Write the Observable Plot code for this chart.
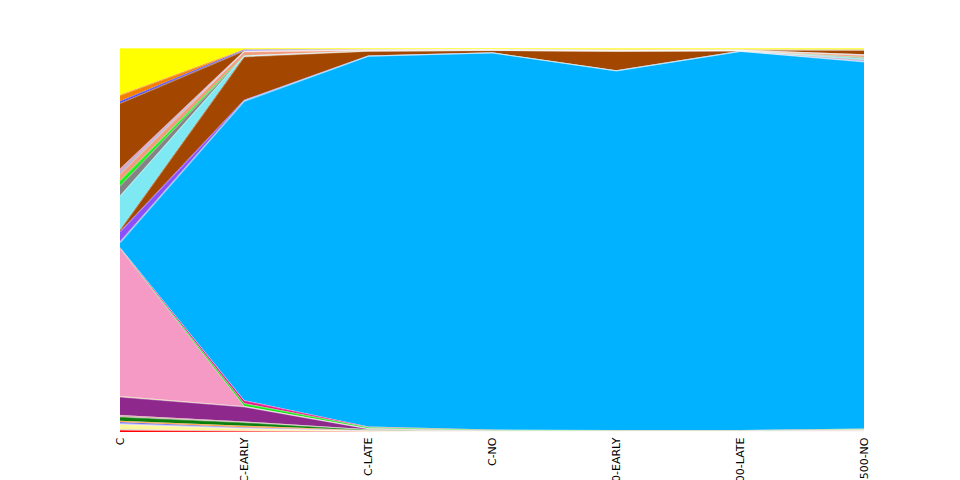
<!DOCTYPE html>
<html>
<head>
<meta charset="utf-8">
<script src="https://cdn.jsdelivr.net/npm/d3@7"></script>
<script src="https://cdn.jsdelivr.net/npm/@observablehq/plot@0.6"></script>
<style>
  html, body { margin: 0; padding: 0; background: #ffffff; }
  svg text { font-family: "DejaVu Sans", sans-serif; }
</style>
</head>
<body>
<div id="chart"></div>
<script>
// Samples (x categories)
const samples = ["C", "C-EARLY", "C-LATE", "C-NO", "C500-EARLY", "C500-LATE", "C500-NO"];

// Taxa, bottom of the stack to top
const taxa = [
  "Taxon 01", "Taxon 02", "Taxon 03", "Taxon 04", "Taxon 05", "Taxon 06", "Taxon 07",
  "Taxon 08", "Taxon 09", "Taxon 10", "Taxon 11", "Taxon 12", "Taxon 13", "Taxon 14",
  "Taxon 15", "Taxon 16", "Taxon 17", "Taxon 18", "Taxon 19", "Taxon 20", "Taxon 21",
  "Taxon 22", "Taxon 23", "Taxon 24", "Taxon 25", "Taxon 26", "Taxon 27"
];

// Relative abundance (%) per sample, one array per taxon
const taxon01 = [0.55, 0.30, 0.10, 0.05, 0.05, 0.05, 0.08];
const taxon02 = [0.20, 0.10, 0.05, 0.02, 0.02, 0.02, 0.03];
const taxon03 = [1.30, 0.50, 0.15, 0.05, 0.05, 0.05, 0.08];
const taxon04 = [0.25, 0.20, 0.05, 0.02, 0.02, 0.02, 0.03];
const taxon05 = [0.30, 0.15, 0.03, 0.02, 0.02, 0.02, 0.02];
const taxon06 = [0.30, 0.40, 0.10, 0.03, 0.03, 0.03, 0.06];
const taxon07 = [1.10, 0.90, 0.20, 0.05, 0.03, 0.03, 0.04];
const taxon08 = [0.40, 0.20, 0.05, 0.02, 0.02, 0.02, 0.04];
const taxon09 = [4.80, 3.90, 0.20, 0.05, 0.03, 0.03, 0.04];
const taxon10 = [0.15, 0.05, 0.02, 0.01, 0.01, 0.01, 0.05];
const taxon11 = [38.40, 0.10, 0.05, 0.05, 0.05, 0.05, 0.20];
const taxon12 = [0.10, 0.70, 0.30, 0.20, 0.15, 0.15, 0.15];
const taxon13 = [0.20, 0.80, 0.15, 0.05, 0.05, 0.05, 0.06];
const taxon14 = [1.30, 77.90, 96.60, 98.20, 93.60, 98.80, 95.50];
const taxon15 = [0.30, 0.10, 0.05, 0.03, 0.05, 0.03, 0.10];
const taxon16 = [2.60, 0.20, 0.05, 0.02, 0.02, 0.02, 0.20];
const taxon17 = [0.50, 11.30, 1.20, 0.60, 5.00, 0.10, 0.10];
const taxon18 = [8.85, 0.20, 0.05, 0.02, 0.05, 0.02, 0.40];
const taxon19 = [2.60, 0.05, 0.03, 0.02, 0.03, 0.02, 0.30];
const taxon20 = [1.30, 0.05, 0.02, 0.01, 0.02, 0.01, 0.10];
const taxon21 = [1.80, 1.00, 0.15, 0.10, 0.15, 0.10, 0.50];
const taxon22 = [0.60, 0.10, 0.03, 0.02, 0.02, 0.02, 0.15];
const taxon23 = [0.70, 0.10, 0.03, 0.02, 0.02, 0.02, 0.10];
const taxon24 = [17.10, 0.05, 0.10, 0.05, 0.05, 0.05, 1.10];
const taxon25 = [0.50, 0.25, 0.03, 0.02, 0.02, 0.02, 0.05];
const taxon26 = [1.60, 0.05, 0.05, 0.02, 0.03, 0.02, 0.05];
const taxon27 = [12.20, 0.35, 0.25, 0.25, 0.40, 0.35, 0.40];

const abundances = [
  taxon01, taxon02, taxon03, taxon04, taxon05, taxon06, taxon07, taxon08, taxon09,
  taxon10, taxon11, taxon12, taxon13, taxon14, taxon15, taxon16, taxon17, taxon18,
  taxon19, taxon20, taxon21, taxon22, taxon23, taxon24, taxon25, taxon26, taxon27
];

// Fill colours, same order as taxa
const palette = [
  "#ff0000", "#cfc8c0", "#fff59a", "#b0a8f0", "#3c3cf0", "#ff8c1a", "#0b7d0b",
  "#d4a0a0", "#8e288c", "#e8c070", "#f49ac4", "#19e619", "#ea1a8e", "#00b2ff",
  "#a0a0c8", "#8c50fa", "#a34700", "#7ee9f3", "#838383", "#13f013", "#f29c7e",
  "#90a8e0", "#e090b0", "#a34700", "#2828ff", "#f58000", "#ffff00"
];

const table = [];
taxa.forEach((taxon, i) => {
  samples.forEach((sample, j) => {
    table.push({sample, taxon, share: abundances[i][j]});
  });
});

const chart = Plot.plot({
  width: 960,
  height: 480,
  marginLeft: 120,
  marginRight: 96,
  marginTop: 48,
  marginBottom: 48,
  style: {fontFamily: "'DejaVu Sans', sans-serif", fontSize: "11px", background: "#ffffff", color: "#000000"},
  x: {type: "point", domain: samples, padding: 0, label: null, axis: null},
  y: {axis: null},
  color: {domain: taxa, range: palette},
  marks: [
    Plot.areaY(table, Plot.stackY({
      x: "sample", y: "share", z: "taxon", fill: "taxon", offset: "normalize"
    })),
    Plot.lineY(table, Plot.stackY2({
      x: "sample", y: "share", z: "taxon", offset: "normalize",
      stroke: "#ffffff", strokeOpacity: 0.35, strokeWidth: 1
    })),
    Plot.axisX({
      domain: samples, tickRotate: -90, tickSize: 0, tickPadding: 5,
      fontSize: 11, fontFamily: "'DejaVu Sans', sans-serif", label: null, fill: "#000000"
    })
  ]
});

document.getElementById("chart").appendChild(chart);
</script>
</body>
</html>
